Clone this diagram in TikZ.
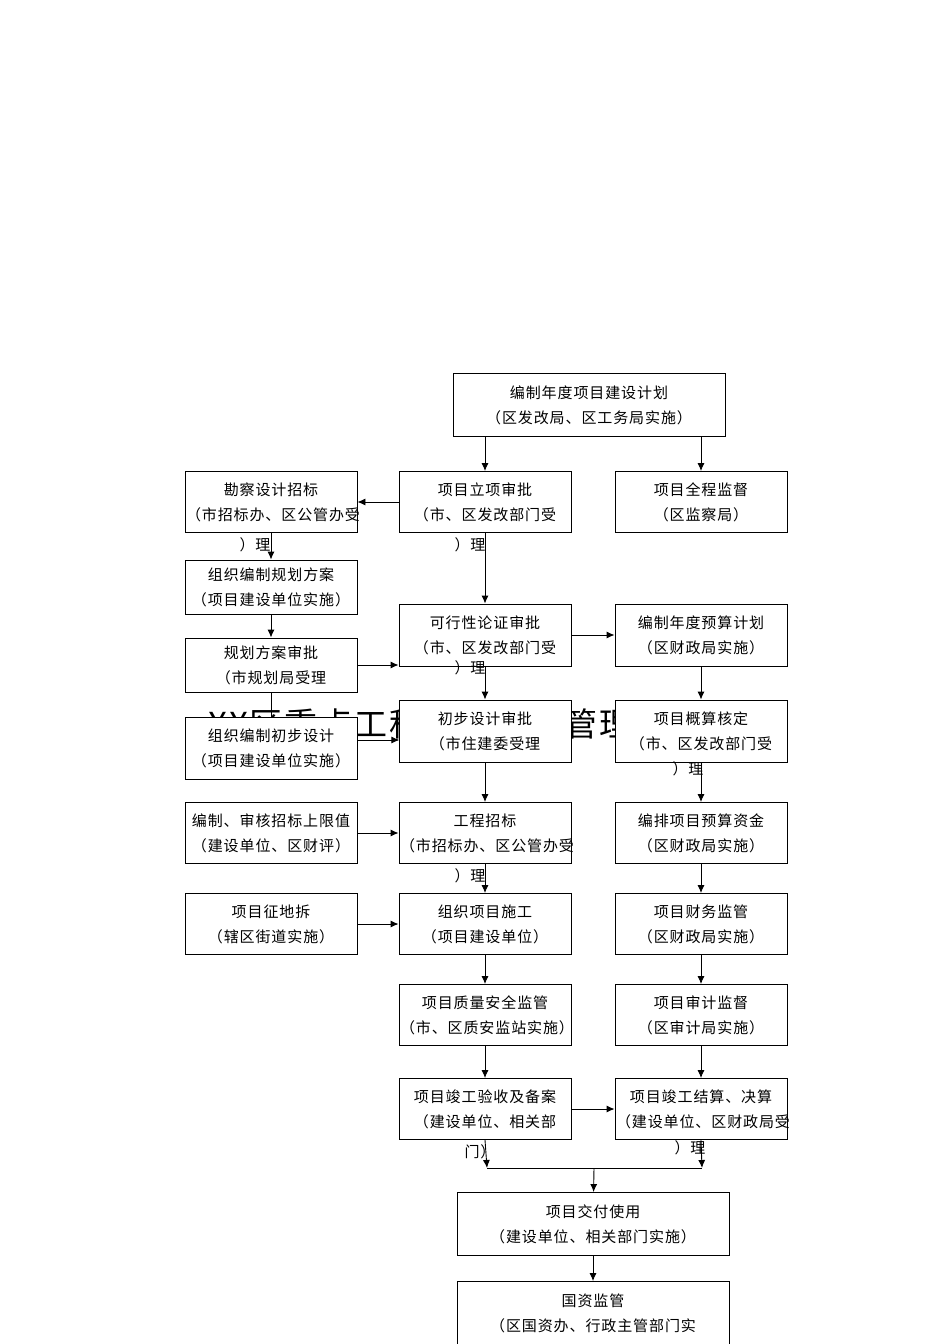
\documentclass[tikz,border=0pt]{standalone}
\usepackage{fontspec}
\setmainfont{Noto Sans CJK SC}
\usetikzlibrary{arrows.meta}
\begin{document}
\begin{tikzpicture}[x=1pt,y=-1pt,
  box/.style={draw,fill=white,line width=0.9pt,text width=170pt,minimum height=61pt,align=center,font=\fontsize{15}{25}\selectfont\addfontfeature{LetterSpace=6},inner sep=1pt},
  wbox/.style={box,text width=270pt,minimum height=63pt},
  extra/.style={font=\fontsize{15}{16}\selectfont\addfontfeature{LetterSpace=6},inner sep=0pt},
  arr/.style={-{Latex[length=8pt,width=7pt]},line width=0.9pt},
  ln/.style={line width=0.9pt}]
\useasboundingbox (0,0) rectangle (950,1344);
\node[anchor=west,font=\fontsize{33}{33}\selectfont\addfontfeature{LetterSpace=6},inner sep=0pt] (title) at (208,724) {XX区重点工程建设项目管理流程};
\node[wbox] (A) at (589,405) {编制年度项目建设计划\\（区发改局、区工务局实施）};
\node[box] (B) at (485,502) {项目立项审批\\（市、区发改部门受};
\node[extra] (B3) at (470,545) {）理};
\node[box] (C) at (701,502) {项目全程监督\\（区监察局）};
\node[box] (D) at (271,502) {勘察设计招标\\（市招标办、区公管办受};
\node[extra] (D3) at (255,545) {）理};
\node[box,minimum height=54pt] (E) at (271,587) {组织编制规划方案\\（项目建设单位实施）};
\node[box,minimum height=54pt] (F) at (271,665) {规划方案审批\\（市规划局受理};
\node[box,minimum height=62pt] (G) at (485,635) {可行性论证审批\\（市、区发改部门受};
\node[extra] (G3) at (470,668) {）理};
\node[box,minimum height=62pt] (H) at (701,635) {编制年度预算计划\\（区财政局实施）};
\node[box,minimum height=62pt] (I) at (485,731) {初步设计审批\\（市住建委受理};
\node[box,minimum height=62pt] (J) at (271,748) {组织编制初步设计\\（项目建设单位实施）};
\node[box,minimum height=62pt] (K) at (701,731) {项目概算核定\\（市、区发改部门受};
\node[extra] (K3) at (688,769) {）理};
\node[box] (L) at (271,833) {编制、审核招标上限值\\（建设单位、区财评）};
\node[box] (M) at (485,833) {工程招标\\（市招标办、区公管办受};
\node[extra] (M3) at (470,876) {）理};
\node[box] (N) at (701,833) {编排项目预算资金\\（区财政局实施）};
\node[box] (O) at (271,924) {项目征地拆\\（辖区街道实施）};
\node[box] (P) at (485,924) {组织项目施工\\（项目建设单位）};
\node[box] (Q) at (701,924) {项目财务监管\\（区财政局实施）};
\node[box] (R) at (485,1015) {项目质量安全监管\\（市、区质安监站实施）};
\node[box] (S) at (701,1015) {项目审计监督\\（区审计局实施）};
\node[box] (T) at (485,1109) {项目竣工验收及备案\\（建设单位、相关部};
\node[extra] (T3) at (480,1152) {门）};
\node[box] (U) at (701,1109) {项目竣工结算、决算\\（建设单位、区财政局受};
\node[extra] (U3) at (690,1148) {）理};
\node[wbox] (V) at (593,1224) {项目交付使用\\（建设单位、相关部门实施）};
\node[wbox] (W) at (593,1313) {国资监管\\（区国资办、行政主管部门实};
\coordinate (m1) at (487,1168);
\coordinate (m2) at (702,1168);
\coordinate (m3) at (594,1168);
\draw[arr] (A.south -| B) -- (B);
\draw[arr] (A.south -| C) -- (C);
\draw[arr] (B) -- (D);
\draw[arr] (D) -- (E);
\draw[arr] (E) -- (F);
\draw[arr] (F.east) -- (F.east -| G.west);
\draw[ln] (F) -- (J);
\draw[arr] (B) -- (G);
\draw[arr] (G) -- (H);
\draw[arr] (G) -- (I);
\draw[arr] (H) -- (K);
\draw[arr] (J.east |- I.west) ++(0,9) -- ++(42,0);
\draw[arr] (I) -- (M);
\draw[arr] (K) -- (N);
\draw[arr] (L) -- (M);
\draw[arr] (M) -- (P);
\draw[arr] (N) -- (Q);
\draw[arr] (O) -- (P);
\draw[arr] (Q) -- (S);
\draw[arr] (P) -- (R);
\draw[arr] (R) -- (T);
\draw[arr] (S) -- (U);
\draw[arr] (T) -- (U);
\draw[arr] (T.south) -- (m1);
\draw[arr] (U.south) -- (m2);
\draw[ln] (m1) -- (m2);
\draw[arr] (m3) -- (V);
\draw[arr] (V) -- (W);
\end{tikzpicture}
\end{document}
